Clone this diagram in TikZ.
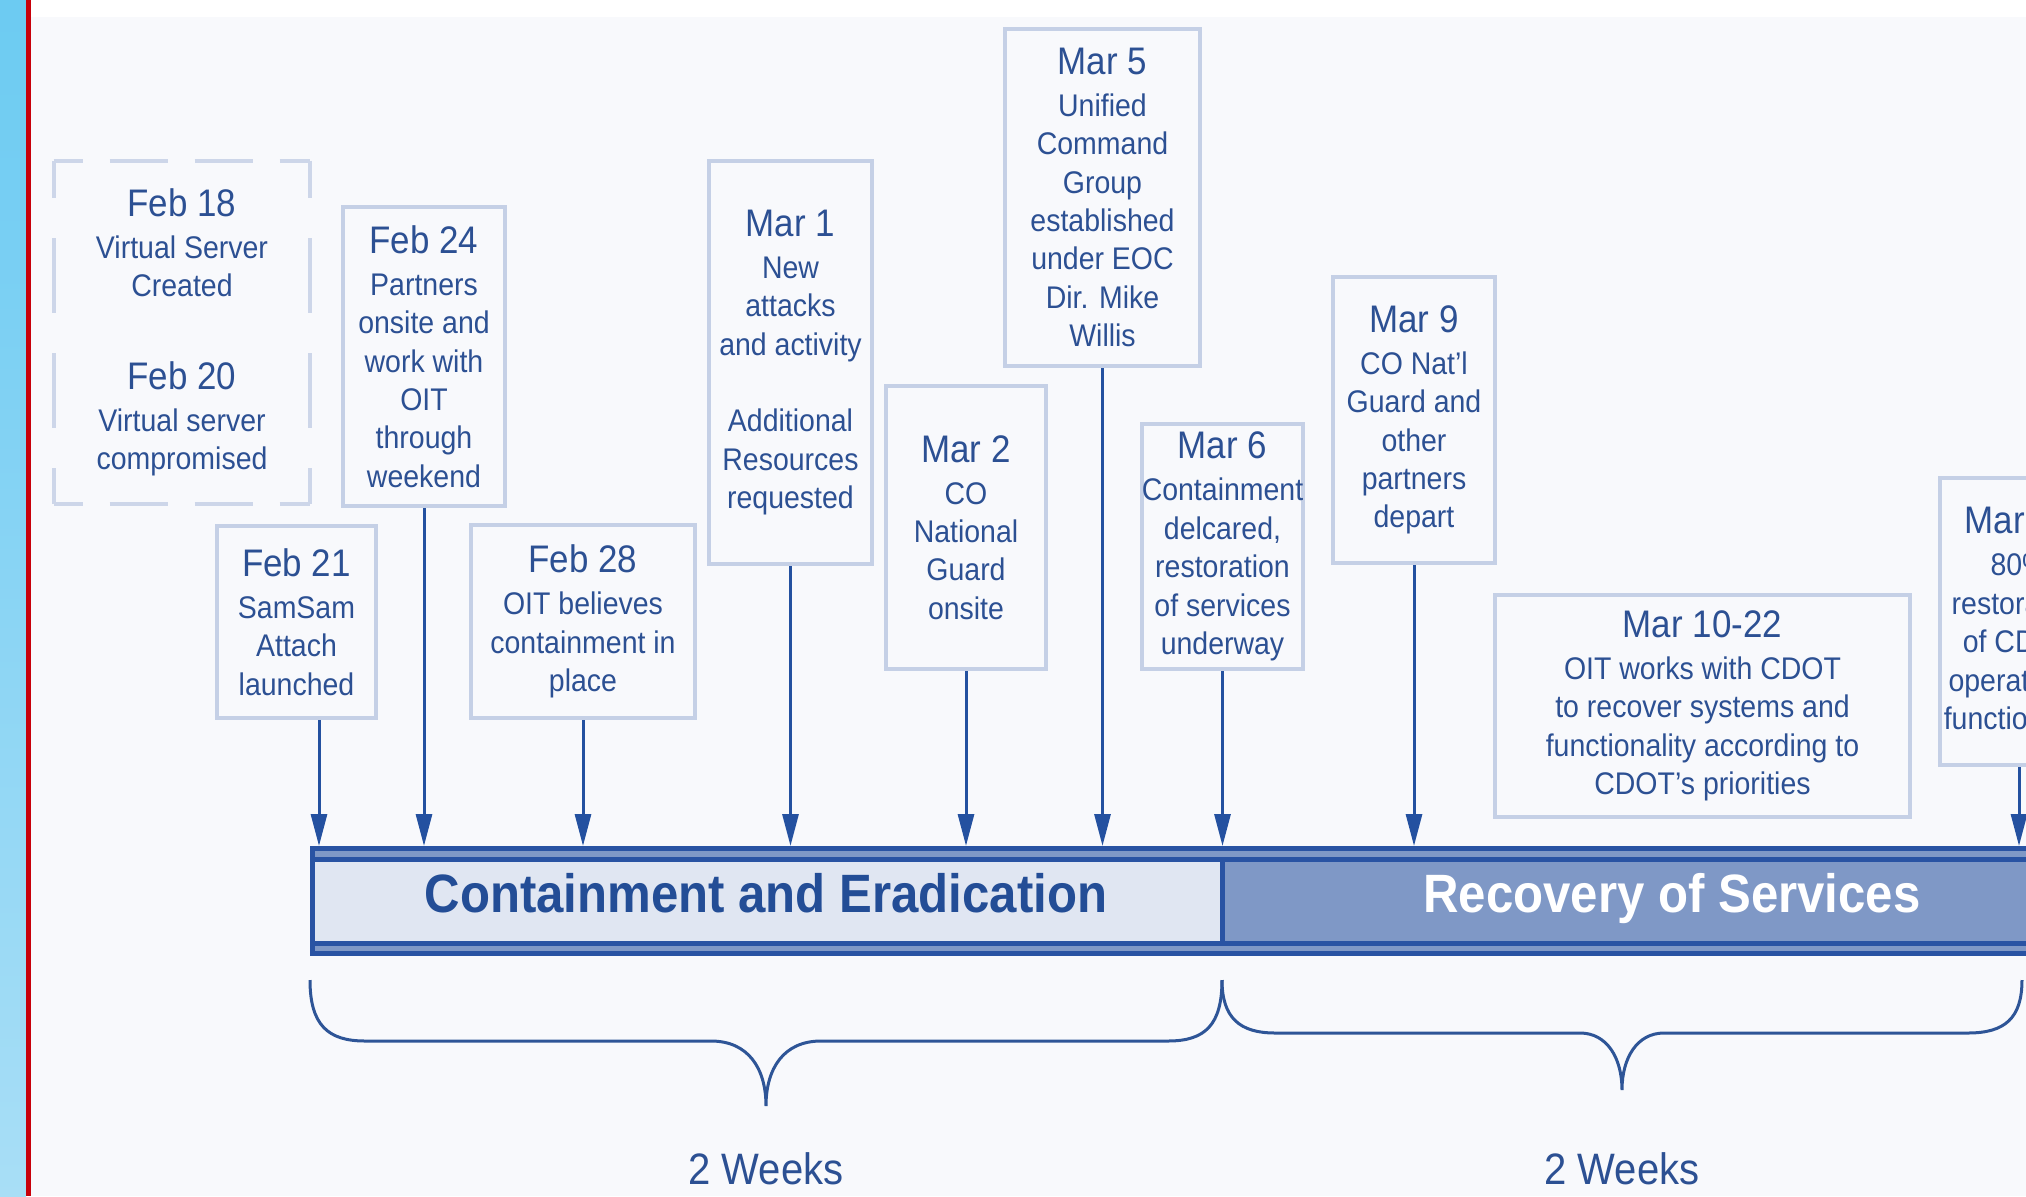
\documentclass[tikz,border=0pt]{standalone}
\usepackage{fontspec}
\setmainfont{Liberation Sans}[FakeStretch=0.91]
\usetikzlibrary{arrows.meta}
\definecolor{bgc}{HTML}{F8F9FC}
\definecolor{boxc}{HTML}{C5D0E6}
\definecolor{dashc}{HTML}{CDD6E9}
\definecolor{txtc}{HTML}{2C5093}
\definecolor{arrc}{HTML}{2451A0}
\definecolor{bracec}{HTML}{2E5597}
\definecolor{bardark}{HTML}{2953A3}
\definecolor{barmid}{HTML}{7F98C6}
\definecolor{barlight}{HTML}{E0E6F2}
\definecolor{bartxt}{HTML}{234D96}
\definecolor{stripetop}{HTML}{6CCBF2}
\definecolor{stripebot}{HTML}{A8DEF6}
\definecolor{redc}{HTML}{C8000A}
\newcommand\datef{\fontsize{19.2}{22}\selectfont}
\newcommand\descf{\fontsize{15.65}{19.2}\selectfont}
\newcommand\barf{\fontsize{27}{32}\selectfont\bfseries}
\newcommand\weekf{\fontsize{22}{26}\selectfont}
\begin{document}
\begin{tikzpicture}[x=0.5pt,y=-0.5pt,
  evbox/.style={draw=boxc, line width=2pt, fill=bgc, inner sep=0pt, align=center, text=txtc, font=\descf},
  plainbox/.style={inner sep=0pt, align=center, text=txtc, font=\descf},
  arr/.style={draw=arrc, line width=1.5pt, -{Triangle[length=16pt,width=8pt]}},
  bracepath/.style={draw=bracec, line width=1.5pt},
  dashH/.style={draw=dashc, line width=2pt, dash pattern=on 29pt off 13.5pt, dash phase=14.5pt},
  dashV/.style={draw=dashc, line width=2pt, dash pattern=on 37.5pt off 20pt, dash phase=18.75pt},
  section/.style={draw=bardark, line width=2.5pt, inner sep=0pt, minimum height=42pt},
  bartext/.style={font=\barf, anchor=base, inner sep=0pt},
  weektext/.style={font=\weekf, text=txtc, anchor=base, inner sep=0pt}
]
\useasboundingbox (0,0) rectangle (2026,1196);
\clip (0,0) rectangle (2026,1196);
% background
\fill[bgc] (0,0) rectangle (2026,1196);
\fill[white] (31,0) rectangle (2026,17);
\shade[top color=stripetop, bottom color=stripebot] (0,0) rectangle (26,1196);
\fill[redc] (26,0) rectangle (31,1196);

% event boxes
\node[plainbox, minimum width=128pt, minimum height=171.5pt] (feb1820) at (182,332.5)
  {{\datef Feb 18}\\[1.75pt]Virtual Server\\Created\\[27.1pt]{\datef Feb 20}\\[1.75pt]Virtual server\\compromised};
\draw[dashH] (feb1820.north west) -- (feb1820.north east);
\draw[dashH] (feb1820.south west) -- (feb1820.south east);
\draw[dashV] (feb1820.north west) -- (feb1820.south west);
\draw[dashV] (feb1820.north east) -- (feb1820.south east);

\node[evbox, minimum width=81pt, minimum height=149.5pt] (feb24) at (424,356.5)
  {{\datef Feb 24}\\[1.75pt]Partners\\onsite and\\work with\\OIT\\through\\weekend};
\node[evbox, minimum width=79.5pt, minimum height=96pt] (feb21) at (296.5,622)
  {{\datef Feb 21}\\[1.75pt]SamSam\\Attach\\launched};
\node[evbox, minimum width=112pt, minimum height=96.5pt] (feb28) at (583,621.5)
  {{\datef Feb 28}\\[1.75pt]OIT believes\\containment in\\place};
\node[evbox, minimum width=81.5pt, minimum height=201.5pt] (mar1) at (790.5,362.5)
  {{\datef Mar 1}\\[1.75pt]New\\attacks\\and activity\\[19.2pt]Additional\\Resources\\requested};
\node[evbox, minimum width=80pt, minimum height=141.5pt] (mar2) at (966,527.5)
  {{\datef Mar 2}\\[1.75pt]CO\\National\\Guard\\onsite};
\node[evbox, minimum width=97.5pt, minimum height=168.5pt] (mar5) at (1102.5,197.5)
  {{\datef Mar 5}\\[1.75pt]Unified\\Command\\Group\\established\\under EOC\\Dir. Mike\\Willis};
\node[evbox, minimum width=80.5pt, minimum height=122.5pt] (mar6) at (1222.5,546.5)
  {{\datef Mar 6}\\[1.75pt]Containment\\delcared,\\restoration\\of services\\underway};
\node[evbox, minimum width=81pt, minimum height=143pt] (mar9) at (1414,420)
  {{\datef Mar 9}\\[1.75pt]CO Nat'l\\Guard and\\other\\partners\\depart};
\node[evbox, minimum width=207.5pt, minimum height=111pt] (mar1022) at (1702.5,706)
  {{\datef Mar 10-22}\\[1.75pt]OIT works with CDOT\\to recover systems and\\functionality according to\\CDOT's priorities};
\node[evbox, minimum width=79pt, minimum height=143.5pt] (mar23) at (2019,621.5)
  {{\datef Mar 23}\\[1.75pt]80\%\\restoration\\of CDOT\\operational\\functionality};

% timeline bar
\draw[draw=bardark, line width=2.5pt, fill=barmid] (312.5,848.5) rectangle (2040,953.5);
\node[section, fill=barlight, minimum width=455pt] (contsec) at (767.5,901.5) {};
\node[section, fill=barmid, minimum width=408.75pt] (recsec) at (1631.25,901.5) {};
\coordinate (bartop) at (0,846);
\node[bartext, text=bartxt] (conttxt) at (766,912) {Containment and Eradication};
\node[bartext, text=white] (rectxt) at (1672,912) {Recovery of Services};

% arrows
\coordinate (f21a) at ([xshift=11.25pt]feb21.south);
\draw[arr] (f21a) -- (f21a |- bartop);
\foreach \n in {feb24,feb28,mar1,mar2,mar5,mar6,mar9,mar23}
  \draw[arr] (\n.south) -- (\n.south |- bartop);

% braces
\draw[bracepath] (310,980) .. controls (310,1025) and (328,1041) .. (365,1041) -- (711,1041)
  .. controls (748,1041) and (766,1068) .. (766,1106)
  .. controls (766,1068) and (784,1041) .. (821,1041) -- (1168,1041)
  .. controls (1205,1041) and (1222,1025) .. (1222,980);
\draw[bracepath] (1222,980) .. controls (1222,1018) and (1240,1033) .. (1275,1033) -- (1580,1033)
  .. controls (1607,1033) and (1622,1058) .. (1622,1090)
  .. controls (1622,1058) and (1637,1033) .. (1664,1033) -- (1968,1033)
  .. controls (2005,1033) and (2022,1018) .. (2022,980);
\node[weektext] (wk1) at (766,1184) {2 Weeks};
\node[weektext] (wk2) at (1622,1184) {2 Weeks};
\end{tikzpicture}
\end{document}
